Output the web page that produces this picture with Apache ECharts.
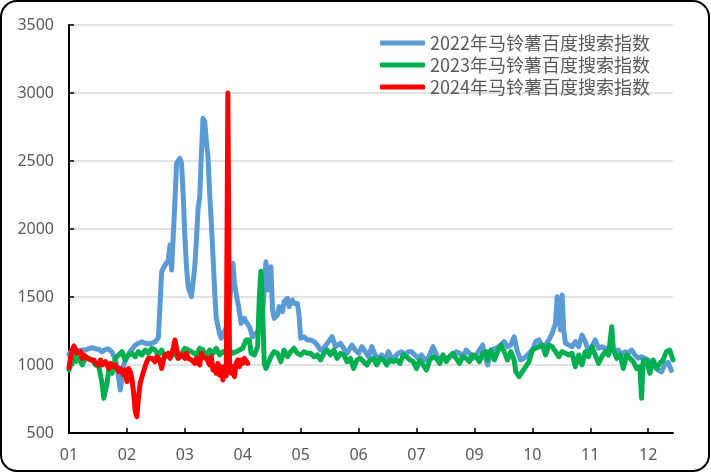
<!DOCTYPE html>
<html>
<head>
<meta charset="utf-8">
<script src="https://cdn.jsdelivr.net/npm/echarts@6/dist/echarts.min.js"></script>
<style>
html,body{margin:0;padding:0;background:#fff;}
#chart{width:711px;height:474px;}
</style>
</head>
<body>
<div id="chart"></div>
<script>
// Day-of-year positions of the date-axis labels and their texts
const tickDays = [0, 35, 70, 105, 140, 175, 210, 245, 280, 315, 350];
const monthLabels = ['01','02','03','04','05','06','07','09','10','11','12'];
const seriesNames = ['2022年马铃薯百度搜索指数','2023年马铃薯百度搜索指数','2024年马铃薯百度搜索指数'];

// [day of year, index value]
const blue2022 = [
[0,1080],[2,1110],[4,1110],[6,1105],[8,1110],[10,1110],[12,1120],[14,1127],[16,1120],[18,1115],[20,1098],[22,1115],[24,1118],[26,1095],[28,1040],[29,990],[31,816],[33,1000],[35,1060],[37,1100],[40,1145],[42,1160],[44,1171],[46,1160],[48,1155],[50,1160],[52,1170],[54,1200],[55,1210],[56,1686],[58,1735],[60,1772],[61,1882],[62,1698],[63,1950],[64,2200],[65,2483],[67,2520],[68,2483],[69,2250],[70,1950],[71,1723],[72,1576],[74,1502],[75,1515],[76,1720],[77,1919],[78,2150],[79,2238],[80,2550],[81,2814],[82,2790],[83,2650],[84,2530],[85,2262],[86,2050],[87,1800],[88,1550],[89,1343],[90,1355],[91,1230],[92,1196],[94,1250],[96,1300],[98,1600],[99,1748],[100,1600],[101,1527],[103,1392],[104,1306],[106,1343],[107,1318],[109,1282],[111,1208],[113,1233],[115,1260],[117,1380],[119,1760],[120,1551],[122,1723],[123,1404],[124,1343],[126,1368],[127,1429],[129,1392],[130,1466],[132,1490],[133,1429],[135,1478],[136,1453],[138,1453],[139,1368],[140,1196],[142,1208],[144,1184],[146,1184],[148,1172],[150,1147],[152,1110],[154,1123],[156,1159],[159,1208],[161,1135],[164,1159],[166,1123],[168,1086],[171,1147],[173,1110],[175,1086],[177,1135],[179,1098],[181,1061],[183,1135],[185,1074],[187,1049],[189,1074],[191,1037],[193,1098],[195,1049],[197,1061],[199,1086],[201,1098],[203,1074],[205,1098],[207,1098],[209,1074],[211,1049],[213,1074],[215,1037],[217,1049],[220,1135],[222,1074],[224,1037],[226,1049],[228,1049],[230,1061],[232,1074],[234,1098],[236,1086],[238,1061],[240,1110],[242,1086],[244,1049],[246,1074],[248,1110],[250,1147],[251,1074],[253,1000],[255,1110],[258,1123],[261,1147],[263,1172],[265,1135],[267,1147],[269,1208],[271,1098],[273,1037],[275,1049],[277,1074],[280,1110],[282,1172],[284,1184],[286,1135],[288,1147],[290,1184],[292,1233],[294,1306],[295,1502],[296,1502],[297,1257],[298,1515],[299,1257],[300,1159],[302,1147],[304,1135],[306,1172],[308,1135],[310,1220],[312,1172],[314,1098],[316,1135],[318,1184],[320,1123],[322,1135],[324,1123],[326,1086],[328,1110],[330,1098],[332,1110],[334,1074],[336,1098],[338,1086],[340,1110],[342,1074],[344,1049],[346,1061],[348,1049],[350,1037],[352,1012],[354,988],[356,963],[358,950],[360,1000],[362,1020],[364,960]
];

const green2023 = [
[0,963],[2,1037],[3,1098],[4,1025],[6,1049],[8,1000],[10,1061],[12,1049],[14,1037],[16,1000],[18,988],[20,865],[21,755],[23,865],[24,963],[26,939],[28,1049],[30,1074],[32,1098],[34,1037],[36,1074],[38,1086],[40,1061],[42,1098],[44,1074],[46,1110],[48,1086],[50,1123],[52,1110],[54,1074],[56,1110],[58,1061],[60,1074],[62,1074],[64,1086],[66,1049],[68,1086],[70,1123],[72,1110],[74,1098],[75,1086],[77,1074],[79,1123],[81,1110],[83,1061],[85,1110],[87,1086],[89,1123],[91,1074],[93,1098],[95,1090],[97,1110],[99,1086],[101,1098],[103,1110],[105,1123],[107,1184],[109,1184],[110,1086],[112,1074],[114,1135],[115,1500],[116,1690],[117,1400],[118,1012],[119,975],[122,1061],[124,1098],[126,1086],[128,1025],[130,1110],[132,1061],[134,1098],[136,1123],[138,1086],[140,1074],[142,1098],[144,1086],[146,1086],[148,1061],[150,1074],[152,1037],[154,1086],[156,1110],[158,1074],[160,1110],[162,1049],[164,1086],[166,1074],[168,1025],[170,1049],[172,975],[174,1037],[176,1049],[178,1025],[180,1000],[182,1037],[184,1049],[186,1000],[188,1049],[190,1037],[192,1000],[194,1037],[196,1025],[198,1037],[200,1012],[202,1074],[204,1061],[206,1037],[208,1025],[210,975],[212,1037],[214,1000],[216,963],[218,1037],[220,1061],[222,1049],[224,1012],[226,1074],[228,1025],[230,1061],[232,1086],[234,1049],[236,1012],[238,1061],[240,1049],[242,1025],[244,1074],[246,1061],[248,1025],[250,1086],[252,1098],[253,1037],[255,1110],[257,1037],[259,1098],[261,1147],[263,1098],[265,1037],[267,1098],[269,1037],[270,951],[272,914],[274,951],[276,988],[278,1025],[280,1110],[282,1123],[284,1135],[286,1147],[288,1074],[290,1147],[292,1135],[294,1098],[296,1061],[298,1098],[300,1086],[302,1074],[304,1086],[306,988],[308,1074],[310,1000],[312,1098],[314,1061],[316,1135],[318,1074],[320,1012],[322,1061],[324,1098],[326,1074],[328,1282],[329,1110],[331,1049],[333,1074],[335,975],[337,1074],[339,1049],[341,1025],[343,975],[345,988],[346,755],[347,1037],[349,1037],[351,939],[353,1037],[355,975],[357,1012],[359,1037],[361,1098],[363,1110],[365,1037]
];

// daily values from day 0
const red2024 = [
980,1060,1110,1140,1135,1086,1074,1098,1049,1074,
1086,1049,1061,1037,1025,1037,1012,1025,1000,1037,
1000,1012,1025,1000,975,1012,988,975,1000,975,
951,975,963,926,963,878,975,951,900,800,
660,620,760,865,878,951,963,1025,1049,1061,
1049,1061,1025,1061,1074,1037,975,1037,1074,1061,
1086,1049,1074,1123,1184,1123,1049,1037,1074,1061,
1049,1086,1049,1061,1037,1049,1012,1050,1061,1000,
1086,1060,1049,1050,1061,1000,1061,963,988,939,
1012,926,988,890,988,920,3000,1012,939,988,
914,1012,1037,988,1037,1012,1049,1061,1012
];

const chart = echarts.init(document.getElementById('chart'), null, {renderer: 'canvas'});
const txt = '#595959';
const fontFam = '"Noto Sans", "Noto Sans CJK SC", sans-serif';
function lineSeries(name, data, color) {
  return {
    name: name, type: 'line', data: data, showSymbol: false, symbol: 'none',
    lineStyle: {color: color, width: 5, cap: 'round', join: 'round'},
    itemStyle: {color: color}, emphasis: {disabled: true}, animation: false
  };
}
chart.setOption({
  animation: false,
  backgroundColor: '#fff',
  graphic: [{
    type: 'rect', shape: {x: 1, y: 1, width: 708, height: 470, r: 16},
    style: {fill: 'none', stroke: '#000', lineWidth: 2}, z: 100, silent: true
  }],
  grid: {left: 69, right: 38, top: 25, bottom: 41, containLabel: false},
  legend: {
    orient: 'vertical', left: 375, top: 27, itemWidth: 45, itemHeight: 5, itemGap: 0,
    icon: 'roundRect',
    textStyle: {color: txt, fontSize: 18, lineHeight: 22, fontFamily: '"Noto Sans CJK SC", sans-serif'},
    data: seriesNames, selectedMode: false
  },
  xAxis: {
    type: 'value', min: 0, max: 365, interval: 35,
    axisLine: {show: true, lineStyle: {color: '#000', width: 2}},
    axisTick: {show: true, inside: true, length: 5, lineStyle: {color: '#000', width: 1.5}, customValues: tickDays},
    axisLabel: {
      customValues: tickDays, color: txt, fontSize: 16, fontFamily: fontFam, margin: 14,
      formatter: function (v) { const i = tickDays.indexOf(v); return i >= 0 ? monthLabels[i] : ''; }
    },
    splitLine: {show: false}
  },
  yAxis: {
    type: 'value', min: 500, max: 3500, interval: 500,
    axisLine: {show: true, lineStyle: {color: '#000', width: 2}},
    axisTick: {show: true, inside: true, length: 5, lineStyle: {color: '#000', width: 1.5}},
    axisLabel: {color: txt, fontSize: 16, fontFamily: fontFam, margin: 15,
      formatter: function (v) { return String(v); }},
    splitLine: {show: true, lineStyle: {color: '#d9d9d9', width: 1.5}}
  },
  series: [
    lineSeries(seriesNames[0], blue2022, '#5B9BD5'),
    lineSeries(seriesNames[1], green2023, '#00B050'),
    lineSeries(seriesNames[2], red2024.map(function (v, i) { return [i, v]; }), '#FF0000')
  ]
});
</script>
</body>
</html>
